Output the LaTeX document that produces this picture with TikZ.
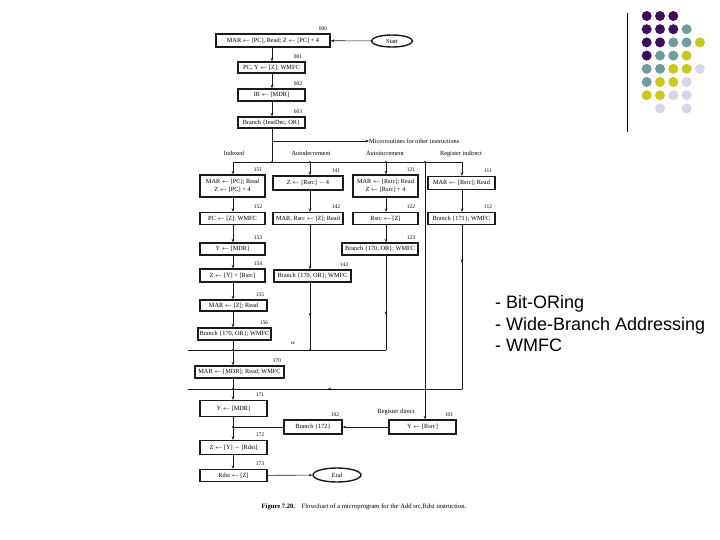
\documentclass[tikz,border=0pt]{standalone}
\usepackage{fontspec}
\setmainfont{Liberation Serif}
\newfontfamily\arialfont{Liberation Sans}
\usetikzlibrary{arrows.meta,shapes.geometric,decorations.markings}
\definecolor{cpurple}{HTML}{3F0F5F}
\definecolor{cteal}{HTML}{6F9C9C}
\definecolor{cyellow}{HTML}{C8C820}
\definecolor{clav}{HTML}{D6D6E6}
\definecolor{ink}{HTML}{1A1A1A}
\tikzset{
  box/.style={draw=ink, line width=1.4pt, fill=white, inner sep=0pt, align=center,
    font=\fontsize{6.3}{8}\selectfont},
  oval/.style={ellipse, draw=ink, line width=1.4pt, inner sep=0pt, fill=white,
    font=\fontsize{6.3}{8}\selectfont},
  num/.style={inner sep=0pt, font=\fontsize{5.5}{6}\selectfont, anchor=south east},
  lbl/.style={inner sep=0pt, font=\fontsize{6.3}{7}\selectfont},
  wire/.style={draw=ink, line width=0.6pt},
  arr/.style={wire, -{Stealth[length=3.5pt,width=2.8pt]}},
  jdot/.style={circle, fill=ink, inner sep=0pt, minimum size=2.4pt},
  midarr/.style={postaction={decorate}, decoration={markings,
    mark=at position #1 with {\arrow{Stealth[length=3.5pt,width=2.8pt]}}}},
  bullet/.style={inner sep=0pt, anchor=base west, font=\arialfont\fontsize{18}{20}\selectfont},
  deco/.style={circle, inner sep=0pt, minimum size=10pt},
}
\newcommand{\la}{$\leftarrow$}
\begin{document}
\begin{tikzpicture}[x=1pt,y=-1pt]
\useasboundingbox (0,0) rectangle (720,540);

% ---------- decoration ----------
\draw[black, line width=1pt] (627,13) -- (627,132);
\foreach \c/\r/\col in {1/1/cpurple,2/1/cpurple,3/1/cpurple,
  1/2/cpurple,2/2/cpurple,3/2/cpurple,4/2/cteal,
  1/3/cpurple,2/3/cpurple,3/3/cteal,4/3/cteal,5/3/cyellow,
  1/4/cpurple,2/4/cteal,3/4/cteal,4/4/cyellow,
  1/5/cteal,2/5/cteal,3/5/cyellow,4/5/cyellow,5/5/clav,
  1/6/cteal,2/6/cyellow,3/6/cyellow,4/6/clav,
  1/7/cyellow,2/7/cyellow,3/7/clav,4/7/clav,
  2/8/clav,4/8/clav}
  \node[deco, fill=\col] (c\c\r) at ({633.4+13.3*\c},{2.8+13.2*\r}) {};

% ---------- bullet text ----------
\node[bullet] (t1) at (495,308.5) {- Bit-ORing};
\node[bullet] (t2) at (495,330) {- Wide-Branch Addressing};
\node[bullet] (t3) at (495,351.5) {- WMFC};

% ---------- coordinates ----------
\coordinate (j0) at (272,141);
\coordinate (j1) at (272,162);
\coordinate (d233) at (233,162);
\coordinate (d310) at (310,162);
\coordinate (d386) at (386,162);
\coordinate (d425) at (425,162);
\coordinate (d462) at (462,162);
\coordinate (m188) at (188,350);
\coordinate (m233) at (233,350);
\coordinate (m310) at (310,350);
\coordinate (m386) at (386,350);
\coordinate (k188) at (188,389);
\coordinate (k233) at (233,389);
\coordinate (k462) at (462,389);
\coordinate (r233) at (233,427);

% ---------- boxes ----------
\node[box, minimum width=114pt, minimum height=13pt] (b000) at (273,40.5) {MAR \la{} [PC], Read; Z \la{} [PC] + 4};
\node[oval, minimum width=41pt, minimum height=12pt] (start) at (392,41) {Start};
\node[box, minimum width=67pt, minimum height=11pt] (b001) at (271.5,67.5) {PC, Y \la{} [Z]; WMFC};
\node[box, minimum width=67pt, minimum height=12pt] (b002) at (271.5,95) {IR \la{} [MDR]};
\node[box, minimum width=67pt, minimum height=11pt] (b003) at (271.5,122.5) {Branch \{InstDec, OR\}};

\node[box, minimum width=65pt, minimum height=22pt] (b151) at (232.5,186) {MAR \la{} [PC]; Read\\ Z \la{} [PC] + 4};
\node[box, minimum width=70pt, minimum height=14pt] (b141) at (308,183) {Z \la{} [Rsrc] $-$ 4};
\node[box, minimum width=65pt, minimum height=22pt] (b121) at (385.5,186) {MAR \la{} [Rsrc]; Read\\ Z \la{} [Rsrc] + 4};
\node[box, minimum width=67pt, minimum height=13pt] (b111) at (461.5,183) {MAR \la{} [Rsrc]; Read};

\node[box, minimum width=65pt, minimum height=12pt] (b152) at (232.5,218.5) {PC \la{} [Z]; WMFC};
\node[box, minimum width=70pt, minimum height=12pt] (b142) at (308,218.5) {MAR, Rsrc \la{} [Z]; Read};
\node[box, minimum width=65pt, minimum height=12pt] (b122) at (385.5,218.5) {Rsrc \la{} [Z]};
\node[box, minimum width=67pt, minimum height=12pt] (b112) at (461.5,218.5) {Branch \{171\}; WMFC};

\node[box, minimum width=65pt, minimum height=12pt] (b153) at (232.5,249) {Y \la{} [MDR]};
\node[box, minimum width=76pt, minimum height=12pt] (b123) at (380,249) {Branch \{170, OR\}; WMFC};

\node[box, minimum width=65pt, minimum height=13pt] (b154) at (232.5,275.5) {Z \la{} [Y] + [Rsrc]};
\node[box, minimum width=77pt, minimum height=12pt] (b143) at (312.5,276) {Branch \{170, OR\}; WMFC};

\node[box, minimum width=67pt, minimum height=11pt] (b155) at (233.5,305.5) {MAR \la{} [Z]; Read};
\node[box, minimum width=73pt, minimum height=12pt] (b156) at (234.5,334) {Branch \{170, OR\}; WMFC};

\node[box, minimum width=89pt, minimum height=12pt] (b170) at (239.5,372) {MAR \la{} [MDR]; Read; WMFC};
\node[box, minimum width=67pt, minimum height=16pt] (b171) at (233.5,408.5) {Y \la{} [MDR]};
\node[box, minimum width=58pt, minimum height=14pt] (b102) at (313,427) {Branch \{172\}};
\node[box, minimum width=67pt, minimum height=14pt] (b101) at (422.5,427) {Y \la{} [Rsrc]};
\node[box, minimum width=67pt, minimum height=14pt] (b172) at (233.5,447.5) {Z \la{} [Y] $-$ [Rdst]};
\node[box, minimum width=67pt, minimum height=12pt] (b173) at (233.5,475.5) {Rdst \la{} [Z]};
\node[oval, minimum width=48pt, minimum height=14pt] (end) at (337,475) {End};

% ---------- number labels ----------
\foreach \b/\t in {b000/000,b001/001,b002/002,b003/003,b151/151,b141/141,b121/121,b111/111,
  b152/152,b142/142,b122/122,b112/112,b153/153,b123/123,b154/154,b143/143,b155/155,
  b156/156,b170/170,b171/171,b102/102,b101/101,b172/172,b173/173}
  \node[num] (n\b) at ([xshift=-3.5pt,yshift=3pt]\b.north east) {\t};

% ---------- text labels ----------
\node[lbl, anchor=west] (micro) at (369,141) {Microroutines for other instructions};
\node[lbl] (lidx) at (234,153.5) {Indexed};
\node[lbl] (ldec) at (311,153.5) {Autodecrement};
\node[lbl] (linc) at (385,153.5) {Autoincrement};
\node[lbl] (lind) at (461,153.5) {Register indirect};
\node[lbl] (ldir) at (396,412) {Register direct};
\node[lbl] (alpha) at (293,343) {$\alpha$};
\node[inner sep=0pt, font=\fontsize{6.6}{8}\selectfont] (cap) at (364,507)
  {\textbf{Figure 7.20.}\quad Flowchart of a microprogram for the Add src,Rdst instruction.};

% ---------- connectors ----------
\draw[arr] (start) -- (b000);
\draw[arr] (b000.south -| j1) -- (b001.north -| j1);
\draw[arr] (b001.south -| j1) -- (b002.north -| j1);
\draw[arr] (b002.south -| j1) -- (b003.north -| j1);
\draw[wire] (b003.south -| j1) -- (j1);
\draw[arr] (j0) -- (micro.west);
\draw[wire] (d233) -- (d462);
\draw[arr] (d233) -- (b151.north -| d233);
\draw[arr] (d310) -- (b141.north -| d310);
\draw[arr] (d386) -- (b121.north -| d386);
\draw[arr] (d462) -- (b111.north -| d462);
\draw[arr] (d425) -- (b101.north -| d425);

% indexed column
\draw[arr] (b151.south -| d233) -- (b152.north -| d233);
\draw[arr] (b152.south -| d233) -- (b153.north -| d233);
\draw[arr] (b153.south -| d233) -- (b154.north -| d233);
\draw[arr] (b154.south -| d233) -- (b155.north -| d233);
\draw[arr] (b155.south -| d233) -- (b156.north -| d233);
\draw[wire] (b156.south -| d233) -- (m233);
% autodecrement column
\draw[arr] (b141.south -| d310) -- (b142.north -| d310);
\draw[arr] (b142.south -| d310) -- (b143.north -| d310);
\draw[wire, midarr=0.5] (b143.south -| d310) -- (m310);
% autoincrement column
\draw[arr] (b121.south -| d386) -- (b122.north -| d386);
\draw[arr] (b122.south -| d386) -- (b123.north -| d386);
\draw[wire, midarr=0.63] (b123.south -| d386) -- (m386);
% merge to 170
\draw[wire] (m386) -- (m188);
\draw[arr] (m233) -- (b170.north -| m233);
\draw[wire] (b170.south -| m233) -- (k233);
% register indirect
\draw[arr] (b111.south -| d462) -- (b112.north -| d462);
\draw[wire, midarr=0.23] (b112.south -| d462) -- (k462);
\draw[wire, midarr=0.49] (k462) -- (k188);
% lower part
\draw[arr] (k233) -- (b171.north -| k233);
\draw[wire] (b171.south -| k233) -- (r233);
\draw[arr] (b101) -- (b102);
\draw[wire] (b102.west) -- (r233);
\draw[arr] (r233) -- (b172.north -| r233);
\draw[arr] (b172.south -| r233) -- (b173.north -| r233);
\draw[arr] (b173) -- (end);

% junction dots
\foreach \p in {j1,d310,d386,d425,m233,m310,k233,r233}
  \node[jdot] at (\p) {};
\end{tikzpicture}
\end{document}
